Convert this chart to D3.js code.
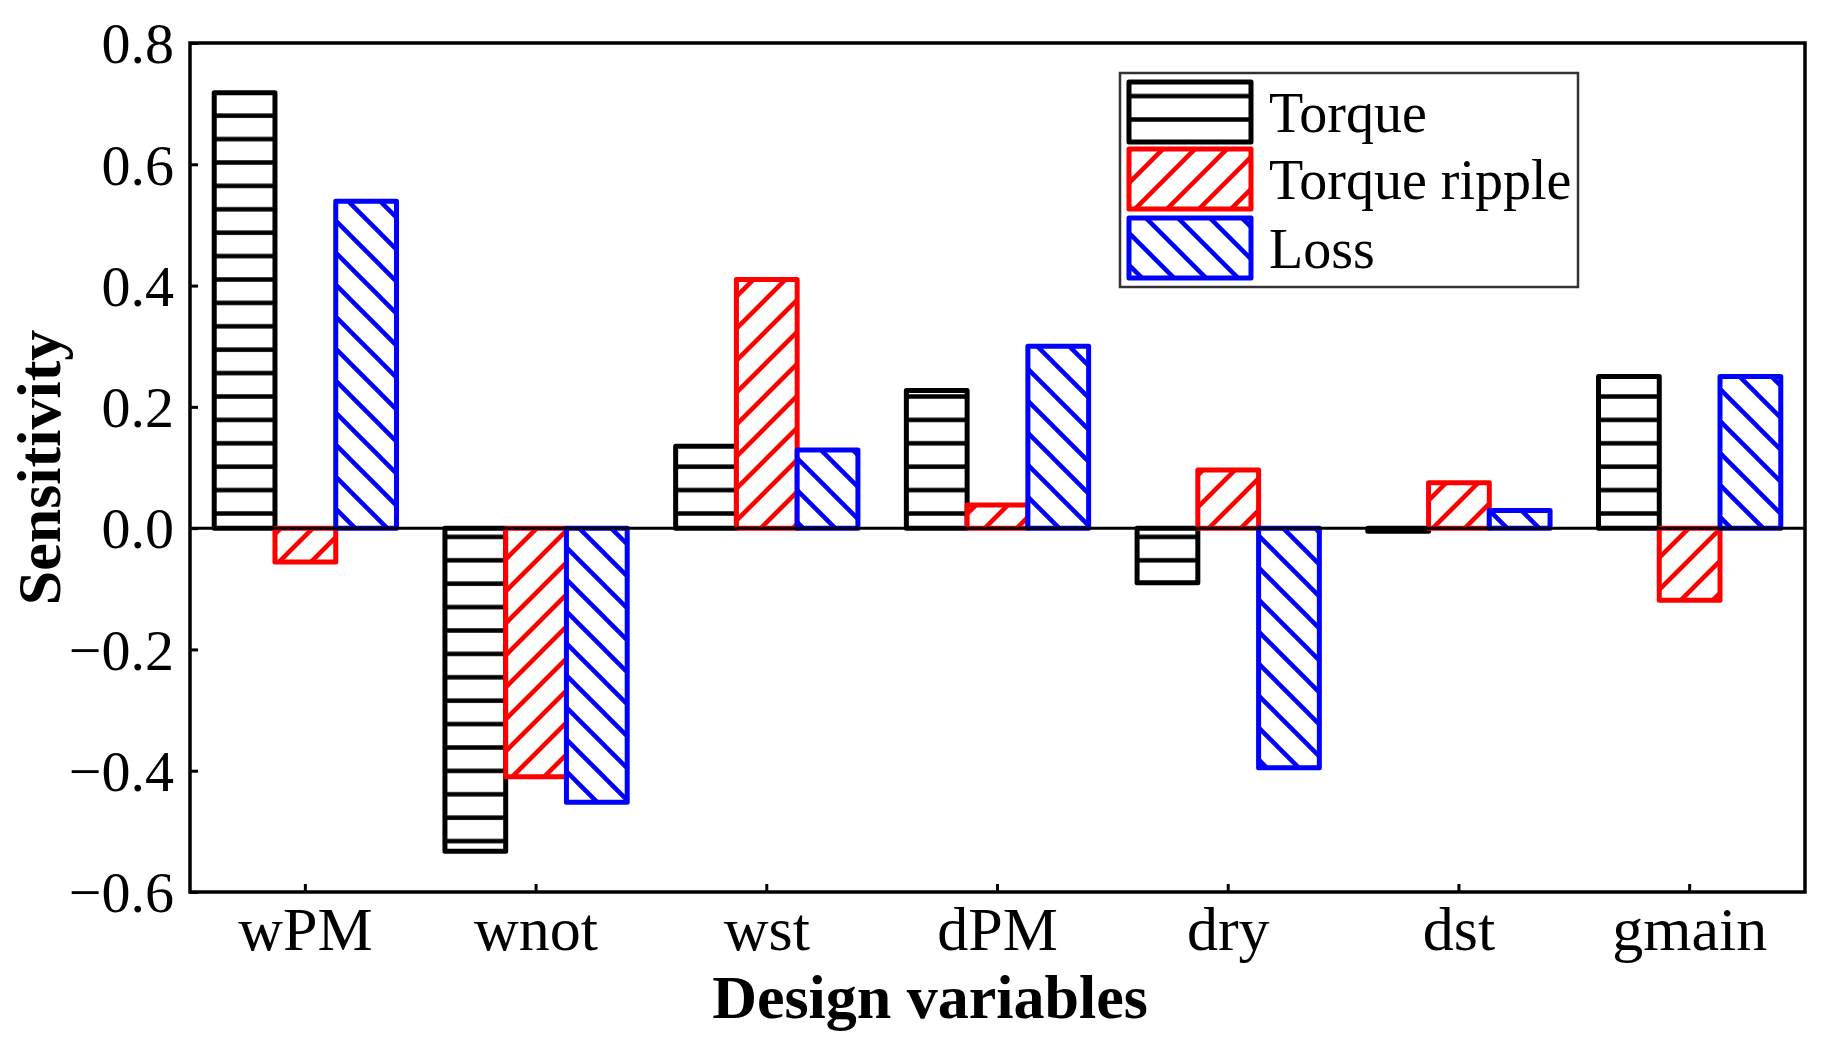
<!DOCTYPE html>
<html><head><meta charset="utf-8">
<script src="https://cdn.jsdelivr.net/npm/d3@7"></script>
<style>body{margin:0;background:#fff}svg{display:block}</style>
</head><body>
<script>
const categories = ["wPM","wnot","wst","dPM","dry","dst","gmain"];
const seriesNames = ["Torque","Torque ripple","Loss"];
const torque = [0.718,-0.533,0.135,0.227,-0.09,-0.005,0.25];
const torqueRipple = [-0.056,-0.41,0.41,0.038,0.096,0.075,-0.119];
const loss = [0.539,-0.452,0.129,0.30,-0.395,0.029,0.25];
const yTicks = [-0.6,-0.4,-0.2,0.0,0.2,0.4,0.6,0.8];
const colors = ["#000000","#ff0000","#0000ff"];
const values = [torque, torqueRipple, loss];

const W=1830,H=1052;
const m={l:190,t:43,r:25,b:160};
const pw=W-m.l-m.r, ph=H-m.t-m.b;
const font="'Liberation Serif','Times New Roman',serif";

const svg=d3.select("body").append("svg").attr("width",W).attr("height",H);
const defs=svg.append("defs");
function pat(id,color,type){
  const p=defs.append("pattern").attr("id",id).attr("patternUnits","userSpaceOnUse");
  if(type==="h"){
    p.attr("width",20).attr("height",23.4);
    p.append("rect").attr("width",20).attr("height",23.4).attr("fill","#fff");
    p.append("line").attr("x1",0).attr("x2",20).attr("y1",2.5).attr("y2",2.5).attr("stroke",color).attr("stroke-width",4.5);
  } else {
    const s=32;
    p.attr("width",s).attr("height",s);
    p.append("rect").attr("width",s).attr("height",s).attr("fill","#fff");
    if(type==="f"){
      p.append("path").attr("d",`M0,${s} L${s},0 M${-s/2},${s/2} L${s/2},${-s/2} M${s/2},${s*1.5} L${s*1.5},${s/2}`)
       .attr("stroke",color).attr("stroke-width",4.5);
    } else {
      p.append("path").attr("d",`M0,0 L${s},${s} M${-s/2},${s/2} L${s/2},${s*1.5} M${s/2},${-s/2} L${s*1.5},${s/2}`)
       .attr("stroke",color).attr("stroke-width",4.5);
    }
  }
}
pat("p0",colors[0],"h");pat("p1",colors[1],"f");pat("p2",colors[2],"b");

const g=svg.append("g").attr("transform",`translate(${m.l},${m.t})`);
const x0=d3.scaleBand().domain(categories).range([0,pw]).padding(0);
const bw=x0.bandwidth(), gw=bw*0.79;
const x1=d3.scaleBand().domain(seriesNames).range([(bw-gw)/2,(bw+gw)/2]).padding(0);
const y=d3.scaleLinear().domain([-0.6,0.8]).range([ph,0]);

const data=[];
categories.forEach((c,i)=>seriesNames.forEach((s,j)=>data.push({c,s,j,v:values[j][i]})));
g.selectAll("rect.bar").data(data).join("rect").attr("class","bar")
 .attr("x",d=>x0(d.c)+x1(d.s)).attr("width",x1.bandwidth())
 .attr("y",d=>y(Math.max(0,d.v))).attr("height",d=>Math.abs(y(d.v)-y(0)))
 .attr("fill",d=>`url(#p${d.j})`).attr("stroke",d=>colors[d.j]).attr("stroke-width",5)
 .attr("stroke-linejoin","round");

g.append("line").attr("x1",0).attr("x2",pw).attr("y1",y(0)).attr("y2",y(0)).attr("stroke","#000").attr("stroke-width",3);

const fmt=d3.format(".1f");
const ya=g.append("g").call(d3.axisLeft(y).tickValues(yTicks).tickFormat(fmt).tickSizeInner(-8).tickSizeOuter(0).tickPadding(16));
ya.select(".domain").remove();
ya.selectAll("line").attr("stroke-width",3);
ya.selectAll("text").attr("font-family",font).attr("font-size",58).attr("fill","#000").attr("dy","0.34em");

const xa=g.append("g").attr("transform",`translate(0,${ph})`).call(d3.axisBottom(x0).tickSizeInner(-8).tickSizeOuter(0).tickPadding(14));
xa.select(".domain").remove();
xa.selectAll("line").attr("stroke-width",3);
xa.selectAll("text").attr("font-family",font).attr("font-size",62).attr("fill","#000").attr("dy","0.71em");

g.append("rect").attr("x",0).attr("y",0).attr("width",pw).attr("height",ph).attr("fill","none").attr("stroke","#000").attr("stroke-width",3.5);

svg.append("text").attr("x",930).attr("y",1018).attr("text-anchor","middle")
 .attr("font-family",font).attr("font-weight","bold").attr("font-size",62).text("Design variables");
svg.append("text").attr("transform",`translate(60,${m.t+y(0.1)}) rotate(-90)`).attr("text-anchor","middle")
 .attr("font-family",font).attr("font-weight","bold").attr("font-size",62).text("Sensitivity");

const lg=svg.append("g");
lg.append("rect").attr("x",1120).attr("y",73).attr("width",458).attr("height",214).attr("fill","#fff").attr("stroke","#333").attr("stroke-width",2.5);
const rowY=[82,149,218];
seriesNames.forEach((s,j)=>{
  lg.append("rect").attr("x",1129).attr("y",rowY[j]).attr("width",122).attr("height",60)
    .attr("fill",`url(#p${j})`).attr("stroke",colors[j]).attr("stroke-width",5).attr("stroke-linejoin","round");
  lg.append("text").attr("x",1269).attr("y",rowY[j]+30).attr("dy","0.35em").attr("font-family",font).attr("font-size",56).text(s);
});
</script>
</body></html>
